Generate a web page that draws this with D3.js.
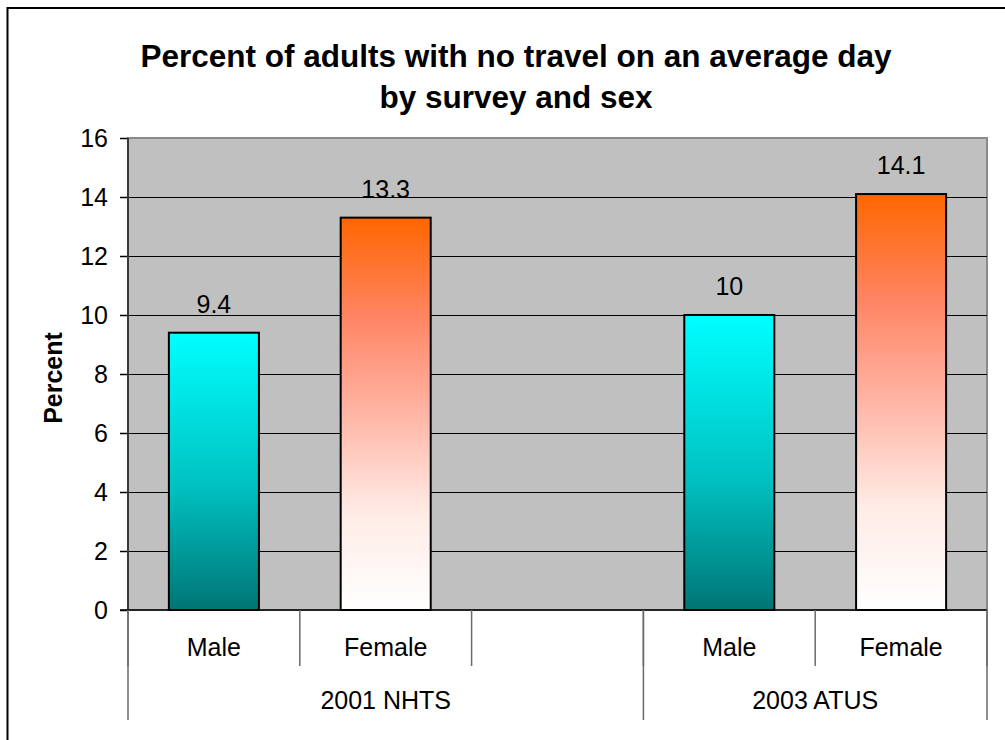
<!DOCTYPE html>
<html>
<head>
<meta charset="utf-8">
<script src="https://cdn.jsdelivr.net/npm/d3@7"></script>
<style>
  html, body { margin: 0; padding: 0; background: #fff; }
  svg { display: block; font-family: "Liberation Sans", Arial, sans-serif; }
</style>
</head>
<body>
<svg id="chart" width="1005" height="740"></svg>
<script>
// Chart data
const categories = ["Male", "Female", "", "Male", "Female"];
const values = [9.4, 13.3, null, 10, 14.1];
const sexes = ["male", "female", null, "male", "female"];
const groups = ["2001 NHTS", "2003 ATUS"];
const groupSpans = [3, 2];
const yTicks = [0, 2, 4, 6, 8, 10, 12, 14, 16];
const titleLines = ["Percent of adults with no travel on an average day", "by survey and sex"];

const svg = d3.select("#chart");
const plot = { left: 128, right: 987, top: 138, bottom: 610 };
const labelSize = 25;

// Outer frame
svg.append("rect")
  .attr("x", 7.5).attr("y", 8).attr("width", 1010).attr("height", 760)
  .attr("fill", "#fff").attr("stroke", "#000").attr("stroke-width", 2);

// Gradients for the two series
const defs = svg.append("defs");
function gradient(id, stops) {
  const g = defs.append("linearGradient").attr("id", id)
    .attr("x1", 0).attr("y1", 0).attr("x2", 0).attr("y2", 1);
  stops.forEach(([o, c]) => g.append("stop").attr("offset", o).attr("stop-color", c));
}
gradient("grad-male", [["0%", "#00ffff"], ["55%", "#00c2c2"], ["100%", "#007575"]]);
gradient("grad-female", [["0%", "#ff6600"], ["25%", "#ff8462"], ["50%", "#ffb5a5"],
  ["75%", "#ffebe5"], ["100%", "#ffffff"]]);

// Scales
const idx = d3.range(categories.length);
const x = d3.scaleBand().domain(idx).range([plot.left, plot.right])
  .paddingInner(0.476).paddingOuter(0.238);
const y = d3.scaleLinear().domain([0, 16]).range([plot.bottom, plot.top]);

// Plot area background
svg.append("rect")
  .attr("x", plot.left).attr("y", plot.top)
  .attr("width", plot.right - plot.left).attr("height", plot.bottom - plot.top)
  .attr("fill", "#c0c0c0").attr("stroke", "#8a8a8a").attr("stroke-width", 2);

// Gridlines
svg.append("g").selectAll("line")
  .data(yTicks.filter(t => t > 0 && t < 16))
  .join("line")
  .attr("x1", plot.left).attr("x2", plot.right)
  .attr("y1", d => Math.round(y(d)) + 0.5).attr("y2", d => Math.round(y(d)) + 0.5)
  .attr("stroke", "#000").attr("stroke-width", 1.2);

// Bars
svg.append("g").selectAll("rect")
  .data(idx.filter(i => values[i] != null))
  .join("rect")
  .attr("x", i => x(i))
  .attr("y", i => y(values[i]))
  .attr("width", x.bandwidth())
  .attr("height", i => y(0) - y(values[i]))
  .attr("fill", i => sexes[i] === "male" ? "url(#grad-male)" : "url(#grad-female)")
  .attr("stroke", "#000").attr("stroke-width", 2);

// Value labels
svg.append("g").selectAll("text")
  .data(idx.filter(i => values[i] != null))
  .join("text")
  .attr("x", i => x(i) + x.bandwidth() / 2)
  .attr("y", i => y(values[i]) - 20)
  .attr("text-anchor", "middle")
  .attr("font-size", labelSize)
  .attr("fill", "#000")
  .text(i => String(values[i]));

// Y axis
const yAxis = d3.axisLeft(y).tickValues(yTicks).tickSize(8).tickPadding(12)
  .tickFormat(d3.format("d"));
const yg = svg.append("g").attr("transform", `translate(${plot.left},0)`).call(yAxis);
yg.select(".domain").remove();
yg.selectAll(".tick line").attr("stroke", "#000").attr("stroke-width", 1.5);
yg.selectAll(".tick text").attr("font-size", labelSize).attr("fill", "#000")
  .attr("font-family", "'Liberation Sans', Arial, sans-serif");
svg.append("line")
  .attr("x1", plot.left).attr("x2", plot.left)
  .attr("y1", plot.top).attr("y2", plot.bottom)
  .attr("stroke", "#3a3a3a").attr("stroke-width", 2);

// Zero baseline
svg.append("line")
  .attr("x1", plot.left - 8).attr("x2", plot.right)
  .attr("y1", plot.bottom).attr("y2", plot.bottom)
  .attr("stroke", "#000").attr("stroke-width", 1.5);

// Category dividers and labels
const step = x.step();
const slotLeft = i => plot.left + i * step;
svg.append("g").selectAll("line")
  .data(d3.range(categories.length + 1))
  .join("line")
  .attr("x1", i => slotLeft(i)).attr("x2", i => slotLeft(i))
  .attr("y1", plot.bottom).attr("y2", 666)
  .attr("stroke", "#6a6a6a").attr("stroke-width", 1.5);
svg.append("g").selectAll("text")
  .data(idx)
  .join("text")
  .attr("x", i => slotLeft(i) + step / 2)
  .attr("y", 656)
  .attr("text-anchor", "middle")
  .attr("font-size", labelSize)
  .text(i => categories[i]);

// Group dividers and labels
const groupStarts = groupSpans.map((s, k) => d3.sum(groupSpans.slice(0, k)));
const bounds = [...groupStarts, categories.length];
svg.append("g").selectAll("line")
  .data(bounds)
  .join("line")
  .attr("x1", b => slotLeft(b)).attr("x2", b => slotLeft(b))
  .attr("y1", plot.bottom).attr("y2", 720)
  .attr("stroke", "#6a6a6a").attr("stroke-width", 1.5);
svg.append("g").selectAll("text")
  .data(groups)
  .join("text")
  .attr("x", (g, k) => slotLeft(groupStarts[k]) + groupSpans[k] * step / 2)
  .attr("y", 709)
  .attr("text-anchor", "middle")
  .attr("font-size", labelSize)
  .text(g => g);

// Y axis title
svg.append("text")
  .attr("transform", "translate(62,378) rotate(-90)")
  .attr("text-anchor", "middle")
  .attr("font-size", labelSize).attr("font-weight", "bold")
  .text("Percent");

// Title
svg.append("g").selectAll("text")
  .data(titleLines)
  .join("text")
  .attr("x", 516)
  .attr("y", (d, i) => 67 + i * 41)
  .attr("text-anchor", "middle")
  .attr("font-size", 31.5).attr("font-weight", "bold")
  .text(d => d);
</script>
</body>
</html>
